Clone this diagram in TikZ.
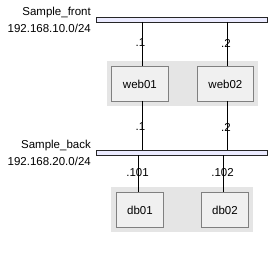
\documentclass[tikz,border=0pt]{standalone}
\usepackage{fontspec}
\setmainfont{Liberation Sans}
\begin{document}
\begin{tikzpicture}[x=1pt,y=-1pt,
  every node/.style={font=\fontsize{11.5}{13}\selectfont, inner sep=0pt},
  bus/.style={draw=black!85, fill=blue!8!white, line width=0.8pt},
  grp/.style={fill=black!10, draw=none},
  host/.style={draw=black!50, fill=black!6, line width=0.8pt},
  link/.style={draw=black, line width=0.8pt},
  addr/.style={anchor=center},
  netlbl/.style={anchor=east, align=right}]
\useasboundingbox (0,0) rectangle (273,275);
% networks
\node[bus, minimum width=171pt, minimum height=5pt, anchor=north west] (front) at (96,17) {};
\node[bus, minimum width=171pt, minimum height=5pt, anchor=north west] (back) at (96,150) {};
\node[netlbl] (frontname) at (91,13) {Sample\_front};
\node[netlbl] (frontnet) at (91,28) {192.168.10.0/24};
\node[netlbl] (backname) at (91,146) {Sample\_back};
\node[netlbl] (backnet) at (91,161) {192.168.20.0/24};
% groups
\node[grp, minimum width=151pt, minimum height=45pt, anchor=north west] (webgrp) at (107,61) {};
\node[grp, minimum width=142pt, minimum height=45pt, anchor=north west] (dbgrp) at (111,187) {};
% hosts
\node[host, minimum width=57pt, minimum height=35pt, anchor=north west] (web01) at (111,66) {web01};
\node[host, minimum width=56pt, minimum height=35pt, anchor=north west] (web02) at (197,66) {web02};
\node[host, minimum width=47pt, minimum height=35pt, anchor=north west] (db01) at (116,192) {db01};
\node[host, minimum width=47pt, minimum height=35pt, anchor=north west] (db02) at (201,192) {db02};
% links
\coordinate (f1) at (142,22); \coordinate (f2) at (227,22);
\coordinate (w1t) at (142,66); \coordinate (w2t) at (227,66);
\coordinate (w1b) at (142,101); \coordinate (w2b) at (227,101);
\coordinate (b1) at (142,150); \coordinate (b2) at (227,150);
\coordinate (b3) at (138,155); \coordinate (b4) at (223,155);
\coordinate (d1) at (138,192); \coordinate (d2) at (223,192);
\draw[link] (f1) -- (w1t);
\draw[link] (f2) -- (w2t);
\draw[link] (w1b) -- (b1);
\draw[link] (w2b) -- (b2);
\draw[link] (b3) -- (d1);
\draw[link] (b4) -- (d2);
% addresses
\node[addr] (a1) at (140.5,43) {.1};
\node[addr] (a2) at (226,43) {.2};
\node[addr] (a3) at (140.5,127) {.1};
\node[addr] (a4) at (226,127) {.2};
\node[addr] (a5) at (137.5,173) {.101};
\node[addr] (a6) at (222.5,173) {.102};
\end{tikzpicture}
\end{document}
